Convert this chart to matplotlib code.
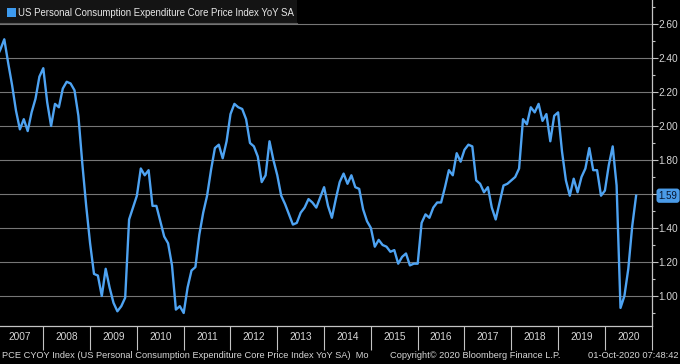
import numpy as np
import matplotlib
matplotlib.use("Agg")
import matplotlib.pyplot as plt
from matplotlib.patches import Rectangle
from matplotlib.lines import Line2D
from matplotlib.ticker import MultipleLocator

# monthly core PCE YoY, Dec 2006 .. Aug 2020
vals_2006 = [2.40]
vals_2007 = [2.45, 2.51, 2.37, 2.24, 2.09, 1.98, 2.04, 1.97, 2.08, 2.16, 2.29, 2.34]
vals_2008 = [2.14, 2.00, 2.13, 2.11, 2.22, 2.26, 2.25, 2.21, 2.06, 1.78, 1.53, 1.31]
vals_2009 = [1.13, 1.12, 1.00, 1.16, 1.05, 0.96, 0.91, 0.94, 0.99, 1.45, 1.52, 1.59]
vals_2010 = [1.75, 1.71, 1.74, 1.53, 1.53, 1.44, 1.35, 1.31, 1.18, 0.92, 0.94, 0.90]
vals_2011 = [1.05, 1.15, 1.17, 1.36, 1.49, 1.59, 1.74, 1.87, 1.89, 1.81, 1.91, 2.07]
vals_2012 = [2.13, 2.11, 2.10, 2.04, 1.90, 1.88, 1.82, 1.67, 1.71, 1.91, 1.80, 1.71]
vals_2013 = [1.59, 1.54, 1.48, 1.42, 1.43, 1.49, 1.52, 1.57, 1.55, 1.52, 1.58, 1.64]
vals_2014 = [1.53, 1.46, 1.57, 1.67, 1.72, 1.66, 1.71, 1.64, 1.63, 1.51, 1.44, 1.40]
vals_2015 = [1.29, 1.33, 1.30, 1.29, 1.26, 1.27, 1.19, 1.23, 1.25, 1.18, 1.19, 1.19]
vals_2016 = [1.43, 1.48, 1.46, 1.52, 1.55, 1.55, 1.64, 1.74, 1.71, 1.84, 1.79, 1.86]
vals_2017 = [1.89, 1.88, 1.68, 1.66, 1.61, 1.64, 1.52, 1.45, 1.55, 1.65, 1.66, 1.68]
vals_2018 = [1.70, 1.75, 2.04, 2.01, 2.11, 2.08, 2.13, 2.03, 2.07, 1.91, 2.06, 2.08]
vals_2019 = [1.85, 1.68, 1.59, 1.69, 1.61, 1.70, 1.75, 1.87, 1.74, 1.74, 1.59, 1.62]
vals_2020 = [1.77, 1.88, 1.65, 0.93, 1.00, 1.16, 1.41, 1.59]

values = (vals_2006 + vals_2007 + vals_2008 + vals_2009 + vals_2010 + vals_2011
          + vals_2012 + vals_2013 + vals_2014 + vals_2015 + vals_2016 + vals_2017
          + vals_2018 + vals_2019 + vals_2020)
# month-end positions as decimal years, first point = end of Dec 2006
dates = 2007.0 + np.arange(len(values)) / 12.0

years = list(range(2007, 2021))
yticks = [1.0, 1.2, 1.4, 1.6, 1.8, 2.0, 2.2, 2.4, 2.6]
last_value = 1.59

legend_text = "US Personal Consumption Expenditure Core Price Index YoY SA"
footer_left = "PCE CYOY Index (US Personal Consumption Expenditure Core Price Index YoY SA)  Mo"
footer_mid = "Copyright\u00a9 2020 Bloomberg Finance L.P."
footer_right = "01-Oct-2020 07:48:42"

plt.rcParams["font.family"] = ["Liberation Sans", "DejaVu Sans"]

W, H = 680, 364
LINE = "#4ea3f2"
AXC = "#c4c4c4"
TXT = "#d6d6d6"

fig = plt.figure(figsize=(W / 100, H / 100), dpi=100, facecolor="black")
ax = fig.add_axes([0, 1 - 326 / H, 651.7 / W, 326 / H])
ax.set_facecolor("black")

ax.plot(dates, values, color=LINE, lw=1.7, solid_joinstyle="round", zorder=3)

ax.set_xlim(2007.075, 2021.0)
ax.set_ylim(0.8235, 2.741)

for s in ["left", "top"]:
    ax.spines[s].set_visible(False)
for s in ["right", "bottom"]:
    ax.spines[s].set_color(AXC)
    ax.spines[s].set_linewidth(0.9)

# right-hand value axis
ax.yaxis.tick_right()
ax.set_yticks(yticks)
ax.set_yticklabels(["" if abs(v - 1.6) < 1e-9 else f"{v:.2f}" for v in yticks])
ax.yaxis.set_minor_locator(MultipleLocator(0.1))
ax.tick_params(axis="y", which="major", direction="out", length=4, width=0.8,
               colors=AXC, labelcolor=TXT, labelsize=7.3, pad=1)
ax.tick_params(axis="y", which="minor", direction="out", length=2.5, width=0.8, colors=AXC)
ax.grid(axis="y", which="major", color="#767676", lw=0.8, zorder=1)

# year separators + centred year labels
ax.set_xticks([y + 1 for y in years])
ax.set_xticklabels([])
ax.set_xticks([y + 0.5 for y in years], minor=True)
ax.set_xticklabels([str(y) for y in years], minor=True)
ax.tick_params(axis="x", which="major", direction="out", length=17.5, width=0.8, colors=AXC)
ax.tick_params(axis="x", which="minor", length=0, labelcolor=TXT, labelsize=7.3, pad=4)

# last value tag
ax.annotate(f"{last_value:.2f}", xy=(1, last_value), xycoords=("axes fraction", "data"),
            xytext=(5, 0), textcoords="offset points", va="center", ha="left",
            fontsize=7, color="#08162e",
            bbox=dict(boxstyle="round,pad=0.22,rounding_size=0.3", fc="#4a9be8", ec="none"))

# legend header
fig.patches.append(Rectangle((0, 1 - 23 / H), 297 / W, 23 / H, transform=fig.transFigure,
                             facecolor="#141414", edgecolor="none", zorder=5))
fig.lines.append(Line2D([0, 297 / W], [1 - 23 / H, 1 - 23 / H], transform=fig.transFigure,
                        color="#5a5a5a", lw=0.8, zorder=6))
fig.patches.append(Rectangle((7 / W, 1 - 17 / H), 9 / W, 9 / H, transform=fig.transFigure,
                             facecolor="#3d9bf0", edgecolor="none", zorder=6))
fig.text(18 / W, 1 - 12.5 / H, legend_text, color="#e8e8e8", fontsize=6.9,
         va="center", ha="left", zorder=7)

# footer
fig.text(2 / W, 1 - 355 / H, footer_left, color=TXT, fontsize=6.7, va="center", ha="left")
fig.text(390 / W, 1 - 355 / H, footer_mid, color=TXT, fontsize=6.7, va="center", ha="left")
fig.text(679 / W, 1 - 355 / H, footer_right, color=TXT, fontsize=6.7, va="center", ha="right")

fig.savefig("out.png", dpi=100, facecolor="black")
